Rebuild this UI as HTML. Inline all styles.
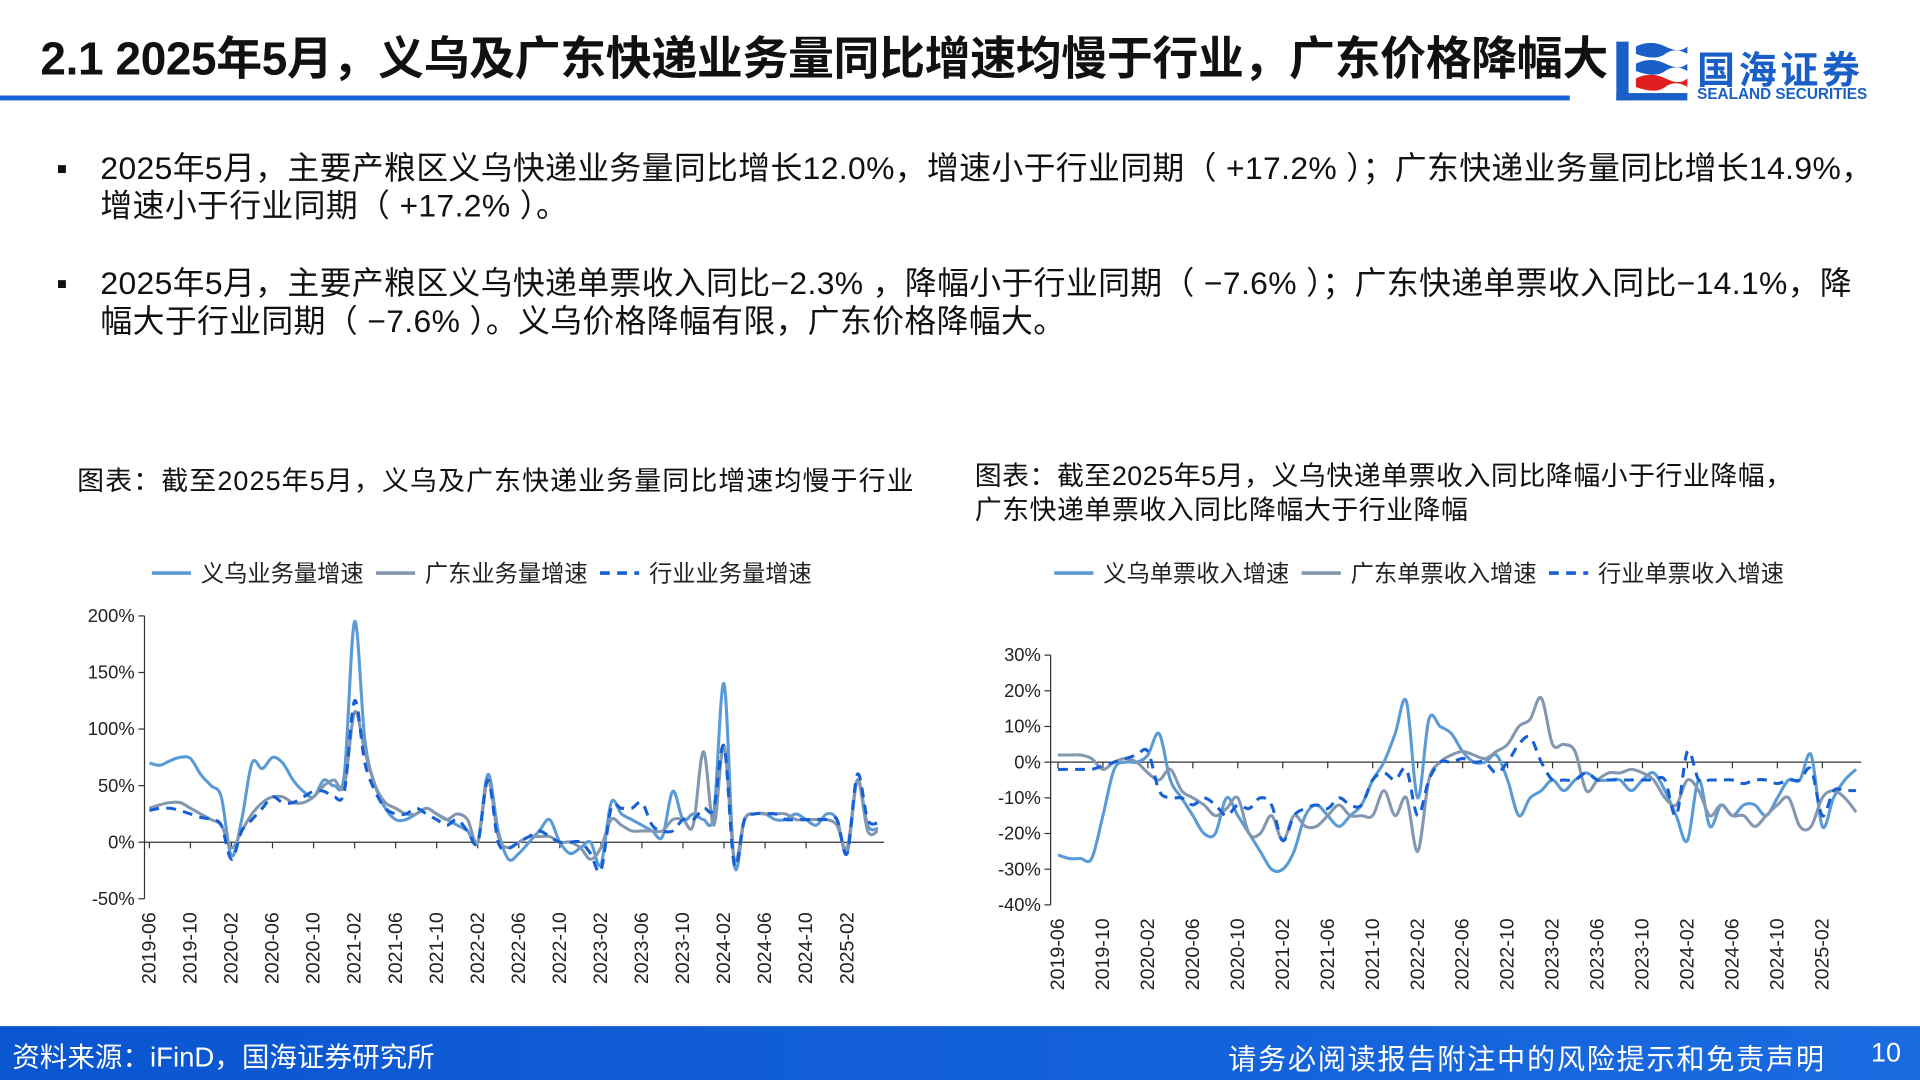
<!DOCTYPE html>
<html><head><meta charset="utf-8">
<style>
html,body{margin:0;padding:0;background:#fff;overflow:hidden;}
body{width:1920px;height:1080px;}
#wrap{width:1568px;height:882px;position:relative;transform:scale(1.22449);transform-origin:0 0;font-family:"Liberation Sans","Noto Sans CJK SC",sans-serif;color:#111;}
.abs{position:absolute;}
.b{font-size:26px;line-height:31px;white-space:nowrap;letter-spacing:0.3px;}
</style></head><body>
<div id="wrap">
<div class="abs" style="left:33px;top:17px;font-size:37.5px;font-weight:bold;letter-spacing:-0.3px;white-space:nowrap">2.1 2025年5月，义乌及广东快递业务量同比增速均慢于行业，广东价格降幅大</div>
<div class="abs" style="left:0;top:78px;width:1282px;height:4px;background:#1560d4"></div>
<div class="abs" style="left:1318px;top:30px">
<svg width="62" height="56" viewBox="0 0 62 56"><rect x="2" y="4" width="10" height="48" fill="#1a5fc8"/><path d="M18 8 Q30 2 42 8 T60 8 L60 14 Q50 8 42 14 T18 14Z" fill="#1a5fc8"/><path d="M18 22 Q30 16 42 22 T60 22 L60 28 Q50 22 42 28 T18 28Z" fill="#1a5fc8"/><path d="M18 34 Q30 28 42 34 T60 34 L60 41 Q50 35 42 41 T18 41Z" fill="#e02020"/><rect x="2" y="46" width="58" height="6" fill="#1a5fc8"/></svg>
</div>
<div class="abs" style="left:1386px;top:32px;font-size:31px;font-weight:bold;color:#1a5fc8;letter-spacing:3px">国海证券</div>
<div class="abs" style="left:1386px;top:70px;font-size:12.5px;font-weight:bold;color:#1a5fc8">SEALAND SECURITIES</div>

<div class="abs b" style="left:46px;top:122px">▪</div>
<div class="abs b" style="left:82px;top:122px">2025年5月，主要产粮区义乌快递业务量同比增长12.0%，增速小于行业同期（ +17.2% ）；广东快递业务量同比增长14.9%，<br>增速小于行业同期（ +17.2% ）。</div>
<div class="abs b" style="left:46px;top:216px">▪</div>
<div class="abs b" style="left:82px;top:216px">2025年5月，主要产粮区义乌快递单票收入同比−2.3% ，降幅小于行业同期（ −7.6% ）；广东快递单票收入同比−14.1%，降<br>幅大于行业同期（ −7.6% ）。义乌价格降幅有限，广东价格降幅大。</div>

<div class="abs" style="left:63px;top:375px;font-size:22px;letter-spacing:0.9px;white-space:nowrap">图表：截至2025年5月，义乌及广东快递业务量同比增速均慢于行业</div>
<div class="abs" style="left:796px;top:375px;font-size:22px;letter-spacing:0.4px;line-height:28px;white-space:nowrap">图表：截至2025年5月，义乌快递单票收入同比降幅小于行业降幅，<br>广东快递单票收入同比降幅大于行业降幅</div>

<svg class="abs" style="left:0;top:0" width="1568" height="882" id="charts"></svg>

<div class="abs" style="left:0;top:838px;width:1568px;height:44px;background:linear-gradient(90deg,#0a55d0,#1a6ae0)"></div>
<div class="abs" style="left:10px;top:846px;font-size:22.5px;color:#fff;white-space:nowrap">资料来源：iFinD，国海证券研究所</div>
<div class="abs" style="left:1003px;top:846px;font-size:23px;letter-spacing:1.4px;color:#fff;white-space:nowrap">请务必阅读报告附注中的风险提示和免责声明</div>
<div class="abs" style="left:1528px;top:847px;font-size:22px;color:#fff">10</div>
</div>
<script>
const xLabels=["2019-06","2019-10","2020-02","2020-06","2020-10","2021-02","2021-06","2021-10","2022-02","2022-06","2022-10","2023-02","2023-06","2023-10","2024-02","2024-06","2024-10","2025-02"];
const leftTicks=[200,150,100,50,0,-50];
const rightTicks=[30,20,10,0,-10,-20,-30,-40];
const yiwuVol=[70,68,72,75,74,60,50,40,-12,20,70,65,75,70,55,45,40,55,50,60,195,90,50,30,20,20,25,30,25,20,15,10,0,60,10,-15,-10,0,10,20,0,-10,-5,0,-20,35,25,20,15,10,5,45,20,25,20,25,140,-20,20,25,25,20,20,25,20,15,25,20,-10,55,15,12];
const gdVol=[30,33,35,35,30,25,20,15,-5,10,25,35,40,40,35,35,40,50,55,50,115,80,50,35,30,25,25,30,25,20,25,20,0,55,5,-5,0,5,5,5,0,0,-5,-15,-5,20,15,10,10,10,10,20,20,15,80,15,85,-15,20,25,25,25,25,20,20,20,20,15,-5,55,10,10];
const indVol=[28,30,30,28,25,22,20,15,-15,10,20,30,40,35,35,40,45,45,40,45,125,70,45,30,25,25,30,25,20,15,20,10,0,55,0,-5,0,5,10,5,0,0,0,-10,-25,30,30,30,35,15,10,10,20,20,30,30,85,-20,20,25,25,25,20,20,20,20,20,20,-10,60,20,17];
const yiwuRev=[-26,-27,-27,-27,-15,-2,0,0,2,8,-5,-10,-15,-20,-20,-10,-15,-20,-25,-30,-30,-25,-15,-12,-15,-18,-15,-12,-5,0,8,17,-10,12,10,8,3,0,0,2,-5,-15,-10,-8,-5,-8,-5,-3,-5,-5,-5,-8,-5,-3,-8,-15,-22,-5,-18,-12,-15,-12,-12,-15,-10,-5,-5,2,-18,-10,-5,-2];
const gdRev=[2,2,2,1,-2,0,1,0,-3,-5,-2,-8,-10,-12,-15,-13,-10,-20,-20,-15,-22,-15,-18,-18,-15,-12,-15,-15,-15,-8,-15,-10,-25,-5,0,2,3,2,1,3,5,10,12,18,5,5,3,-8,-5,-3,-3,-2,-3,-5,-10,-12,-5,-8,-15,-12,-15,-15,-18,-15,-12,-10,-18,-18,-10,-8,-10,-14];
const indRev=[-2,-2,-2,-2,-1,0,1,2,3,-8,-10,-10,-12,-10,-12,-15,-12,-13,-10,-12,-22,-15,-13,-12,-13,-10,-12,-12,-5,-3,-5,-2,-15,-5,0,0,1,0,0,-3,0,5,7,0,-5,-5,-5,-3,-5,-5,-5,-5,-5,-5,-5,-15,3,-5,-5,-5,-5,-6,-5,-5,-6,-5,-5,-2,-15,-8,-8,-8];
const NS="http://www.w3.org/2000/svg";
const svg=document.getElementById('charts');
function mk(t,a,parent){const e=document.createElementNS(NS,t);for(const k in a)e.setAttribute(k,a[k]);(parent||svg).appendChild(e);return e;}
function smooth(pts){
  let d='M'+pts[0][0].toFixed(1)+','+pts[0][1].toFixed(1);
  for(let i=0;i<pts.length-1;i++){
    const p0=pts[i-1]||pts[i],p1=pts[i],p2=pts[i+1],p3=pts[i+2]||p2;
    const c1=[p1[0]+(p2[0]-p0[0])/6,p1[1]+(p2[1]-p0[1])/6];
    const c2=[p2[0]-(p3[0]-p1[0])/6,p2[1]-(p3[1]-p1[1])/6];
    d+='C'+c1[0].toFixed(1)+','+c1[1].toFixed(1)+' '+c2[0].toFixed(1)+','+c2[1].toFixed(1)+' '+p2[0].toFixed(1)+','+p2[1].toFixed(1);
  }
  return d;
}
function chart(cfg){
  const g=mk('g',{});
  
  
  const x=m=>cfg.x0+m*cfg.dx;
  const y=v=>cfg.y0-(v-cfg.vmin)/(cfg.vmax-cfg.vmin)*(cfg.y0-cfg.y1);
  const ax=mk('line',{x1:cfg.axX,x2:cfg.axX,y1:y(cfg.vmax),y2:y(cfg.vmin),stroke:'#333','stroke-width':1},g);
  
  
  cfg.ticks.forEach(t=>{
    mk('line',{x1:cfg.axX-5,x2:cfg.axX,y1:y(t),y2:y(t),stroke:'#333'},g);
    const tx=mk('text',{x:cfg.axX-8,y:y(t)+5,'text-anchor':'end','font-size':15,fill:'#222','font-family':'Liberation Sans Narrow, Liberation Sans, sans-serif'},g);
    tx.textContent=t+'%';
    
    
  });
  const xa=mk('line',{x1:cfg.axX,x2:cfg.xEnd,y1:y(0),y2:y(0),stroke:'#333'},g);
  
  
  for(let m=0;m<72;m+=4){mk('line',{x1:x(m),x2:x(m),y1:y(0),y2:y(0)+5,stroke:'#333'},g);}
  xLabels.forEach((l,i)=>{
    const px=x(i*4)+5, py=cfg.labY;
    const tx=mk('text',{x:px,y:py,transform:`rotate(-90 ${px} ${py})`,'text-anchor':'end','font-size':16,fill:'#222','font-family':'Liberation Sans Narrow, Liberation Sans, sans-serif'},g);
    tx.textContent=l;
    
    
  });
  cfg.series.forEach(s=>{
    const pts=s.data.map((v,i)=>[x(i),y(v)]);
    const p=mk('path',{d:smooth(pts),fill:'none',stroke:s.color,'stroke-width':2.5,'stroke-linejoin':'round','stroke-dasharray':s.dash||'none'},g);
    
    
  });
  let lx=cfg.legX;
  cfg.series.forEach(s=>{
    const l=mk('line',{x1:lx,x2:lx+32,y1:cfg.legY,y2:cfg.legY,stroke:s.color,'stroke-width':3,'stroke-dasharray':s.dash||'none'},g);
    
    
    const t=mk('text',{x:lx+40,y:cfg.legY+7,'font-size':19,fill:'#222'},g);
    t.textContent=s.label;
    
    
    lx+=cfg.legStep;
  });
}
chart({name:'left-chart',x0:122,dx:8.38,axX:118,xEnd:722,y0:734,y1:503,vmin:-50,vmax:200,ticks:leftTicks,labY:745,legX:124,legY:468,legStep:183,
 series:[{name:'yiwu-volume-line',label:'义乌业务量增速',data:yiwuVol,color:'#5b9bd5'},
 {name:'guangdong-volume-line',label:'广东业务量增速',data:gdVol,color:'#8497b0'},
 {name:'industry-volume-line',label:'行业业务量增速',data:indVol,color:'#1560d4',dash:'8,6'}]});
chart({name:'right-chart',x0:864,dx:9.18,axX:858,xEnd:1520,y0:739,y1:535,vmin:-40,vmax:30,ticks:rightTicks,labY:750,legX:861,legY:468,legStep:202,
 series:[{name:'yiwu-revenue-line',label:'义乌单票收入增速',data:yiwuRev,color:'#5b9bd5'},
 {name:'guangdong-revenue-line',label:'广东单票收入增速',data:gdRev,color:'#8497b0'},
 {name:'industry-revenue-line',label:'行业单票收入增速',data:indRev,color:'#1560d4',dash:'8,6'}]});
</script>
</body></html>
